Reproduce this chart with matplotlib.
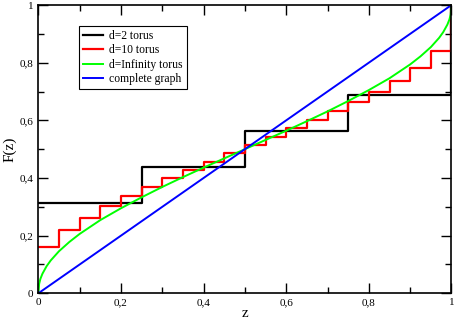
import matplotlib
matplotlib.use("Agg")
import matplotlib.pyplot as plt
from matplotlib.ticker import FixedLocator, MultipleLocator

# d=2 torus: step levels on [0,0.25), [0.25,0.5), ... plus end value at z=1
d2_z = [0.0, 0.25, 0.5, 0.75, 1.0]
d2_F = [0.3125, 0.4375, 0.5625, 0.6875, 1.0]

# d=10 torus: step levels every 0.05
d10_z = [0.0, 0.05, 0.1, 0.15, 0.2, 0.25, 0.3, 0.35, 0.4, 0.45,
         0.5, 0.55, 0.6, 0.65, 0.7, 0.75, 0.8, 0.85, 0.9, 0.95, 1.0]
d10_F = [0.159, 0.219, 0.262, 0.302, 0.338, 0.369, 0.400, 0.428, 0.457, 0.487,
         0.513, 0.543, 0.572, 0.600, 0.631, 0.662, 0.698, 0.738, 0.781, 0.841, 1.0]

# d=Infinity torus: smooth curve
dinf_z = [0.0, 0.002, 0.005, 0.01, 0.02, 0.03, 0.05, 0.075, 0.1, 0.15, 0.2,
          0.25, 0.3, 0.35, 0.4, 0.45, 0.5, 0.55, 0.6, 0.65, 0.7, 0.75, 0.8,
          0.85, 0.9, 0.925, 0.95, 0.97, 0.98, 0.99, 0.995, 0.998, 1.0]
dinf_F = [0.0, 0.033, 0.050, 0.068, 0.094, 0.114, 0.146, 0.178, 0.206, 0.254,
          0.295, 0.333, 0.369, 0.403, 0.436, 0.468, 0.500, 0.532, 0.564, 0.597,
          0.631, 0.667, 0.705, 0.746, 0.794, 0.822, 0.854, 0.886, 0.906,
          0.932, 0.950, 0.967, 1.0]

# complete graph
comp_z = [0.0, 1.0]
comp_F = [0.0, 1.0]

x_ticks = [0, 0.2, 0.4, 0.6, 0.8, 1.0]
tick_labels = ["0", "0,2", "0,4", "0,6", "0,8", "1"]

plt.rcParams["font.family"] = ["Liberation Serif", "DejaVu Serif"]

fig = plt.figure(figsize=(4.55, 3.21), dpi=100)
ax = fig.add_axes([0.0842, 0.0862, 0.9081, 0.8982])

ax.step(d2_z, d2_F, where="post", color="black", lw=1.6, label="d=2 torus")
ax.step(d10_z, d10_F, where="post", color="#ff0000", lw=1.6, label="d=10 torus")
ax.plot(dinf_z, dinf_F, color="#00ff00", lw=1.4, label="d=Infinity torus")
ax.plot(comp_z, comp_F, color="#0000ff", lw=1.4, label="complete graph")

ax.set_xlim(0, 1)
ax.set_ylim(0, 1)
ax.xaxis.set_major_locator(FixedLocator(x_ticks))
ax.yaxis.set_major_locator(FixedLocator(x_ticks))
ax.set_xticklabels(tick_labels)
ax.set_yticklabels(tick_labels)
ax.xaxis.set_minor_locator(MultipleLocator(0.1))
ax.yaxis.set_minor_locator(MultipleLocator(0.1))
ax.tick_params(which="both", direction="in", top=True, right=True, labelsize=8, width=1)
ax.tick_params(which="major", length=7)
ax.tick_params(which="minor", length=4)
for s in ax.spines.values():
    s.set_linewidth(1.2)

ax.set_xlabel("z", fontsize=11)
ax.xaxis.set_label_coords(0.5, -0.046)
ax.set_ylabel("F(z)", fontsize=11)
ax.yaxis.set_label_coords(-0.052, 0.5)

leg = ax.legend(loc="upper left", bbox_to_anchor=(0.0985, 0.927), borderaxespad=0,
                fontsize=8.4, frameon=True, fancybox=False, edgecolor="black",
                framealpha=1, handlelength=1.7, borderpad=0.35,
                labelspacing=0.2, handletextpad=0.55)
leg.get_frame().set_linewidth(0.8)

fig.savefig("out.png", dpi=100)
